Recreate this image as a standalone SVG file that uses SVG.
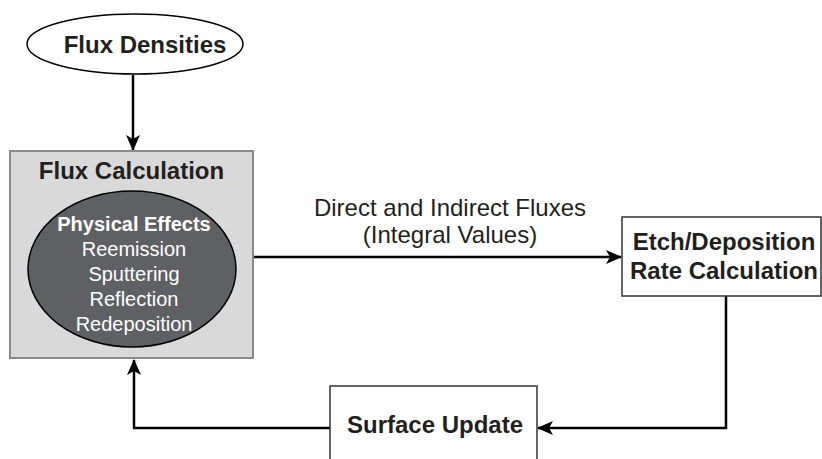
<svg xmlns="http://www.w3.org/2000/svg" width="822" height="459" viewBox="0 0 822 459">
<style>
.bt{font-family:"Liberation Sans",Arial,sans-serif;font-weight:bold;font-size:24px;fill:#231f20;text-anchor:middle}
.rt{font-family:"Liberation Sans",Arial,sans-serif;font-size:24px;fill:#231f20;text-anchor:middle}
.wt{font-family:"Liberation Sans",Arial,sans-serif;font-size:20px;fill:#ffffff;text-anchor:middle}
.box{fill:#ffffff;stroke:#333;stroke-width:1.5}
.con{fill:none;stroke:#000;stroke-width:2.5;marker-end:url(#ah)}
</style>
<defs>
<marker id="ah" viewBox="0 0 16 14" refX="15" refY="7" markerWidth="16" markerHeight="14" markerUnits="userSpaceOnUse" orient="auto">
<path d="M0,0 L16,7 L0,14 L4,7 Z" fill="#000"/>
</marker>
</defs>
<g id="connectors">
<path class="con" d="M133,75 V150"/>
<path class="con" d="M253,257 H621"/>
<path class="con" d="M726,296 V428 H538"/>
<path class="con" d="M330,428 H134 V360"/>
</g>
<g id="flux-densities">
<ellipse cx="135" cy="44" rx="108" ry="30" fill="#fff" stroke="#000" stroke-width="1.5"/>
<text class="bt" x="145" y="53">Flux Densities</text>
</g>
<g id="flux-calculation">
<rect x="10" y="151" width="243" height="207" fill="#d9d9d9" stroke="#8a8a8a" stroke-width="2"/>
<text class="bt" x="131.5" y="179">Flux Calculation</text>
<ellipse cx="132" cy="269" rx="104" ry="78" fill="#5f6064" stroke="#000" stroke-width="1.5"/>
<text class="wt" x="134" y="231" font-weight="bold">Physical Effects</text>
<text class="wt" x="134" y="256">Reemission</text>
<text class="wt" x="134" y="281">Sputtering</text>
<text class="wt" x="134" y="306">Reflection</text>
<text class="wt" x="134" y="331">Redeposition</text>
</g>
<g id="flux-label">
<text class="rt" x="450" y="216">Direct and Indirect Fluxes</text>
<text class="rt" x="450" y="243">(Integral Values)</text>
</g>
<g id="etch-rate">
<rect class="box" x="622" y="217" width="199" height="79"/>
<text class="bt" x="724" y="250">Etch/Deposition</text>
<text class="bt" x="724" y="279">Rate Calculation</text>
</g>
<g id="surface-update">
<rect class="box" x="330" y="386" width="207" height="80"/>
<text class="bt" x="435" y="433">Surface Update</text>
</g>
</svg>
